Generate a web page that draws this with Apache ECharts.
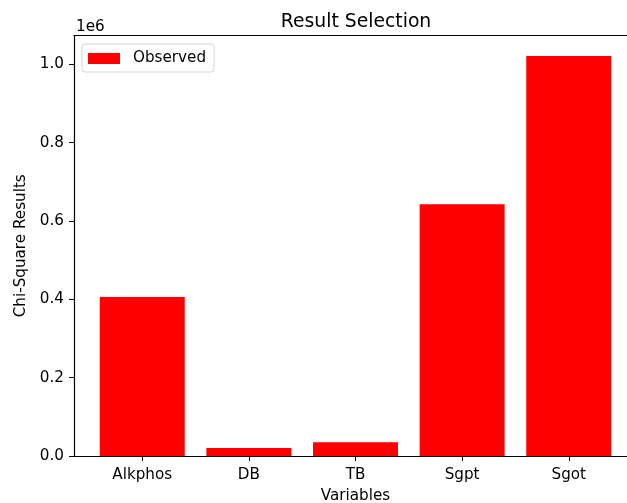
<!DOCTYPE html>
<html>
<head>
<meta charset="utf-8">
<script src="https://cdn.jsdelivr.net/npm/echarts@6/dist/echarts.min.js"></script>
<style>html,body{margin:0;padding:0;background:#fff;overflow:hidden}#c{width:627px;height:503px}</style>
</head>
<body>
<div id="c"></div>
<script>
var categories = ['Alkphos', 'DB', 'TB', 'Sgpt', 'Sgot'];
var observed = [406000, 20500, 35000, 643000, 1021000];
var yTicks = [0, 200000, 400000, 600000, 800000, 1000000];

var chart = echarts.init(document.getElementById('c'), null, {renderer: 'canvas'});
var font = 'DejaVu Sans';
var fs = 15.2;
var data = observed.map(function (v, i) { return [i, v]; });
var idx = categories.map(function (c, i) { return i; });
chart.setOption({
  animation: false,
  backgroundColor: '#fff',
  title: [
    {text: 'Result Selection', left: 351, top: 8, textAlign: 'center',
     textStyle: {fontFamily: font, fontSize: 18.8, fontWeight: 'normal', color: '#000'}},
    {text: '1e6', left: 71, top: 15,
     textStyle: {fontFamily: font, fontSize: fs, fontWeight: 'normal', color: '#000'}}
  ],
  legend: {
    left: 82, top: 44, padding: [7, 8, 6, 6],
    itemWidth: 32, itemHeight: 11,
    icon: 'rect',
    borderColor: '#d5d5d5', borderWidth: 1, borderRadius: 3,
    backgroundColor: '#fff',
    textStyle: {fontFamily: font, fontSize: fs, color: '#000', padding: [0, 0, 0, 8]},
    data: ['Observed']
  },
  grid: {left: 74, top: 35.5, width: 563, height: 420.5, containLabel: false, outerBoundsMode: 'none'},
  xAxis: [{
    type: 'value', min: -0.64, max: 4.64,
    name: 'Variables', nameLocation: 'middle', nameGap: 33,
    nameTextStyle: {fontFamily: font, fontSize: fs, color: '#000'},
    splitLine: {show: false},
    axisLine: {show: true, onZero: false, lineStyle: {color: '#000', width: 1.2}},
    axisTick: {show: true, customValues: idx, length: 5, lineStyle: {color: '#000'}},
    axisLabel: {customValues: idx, margin: 12, fontFamily: font, fontSize: fs, color: '#000',
      formatter: function (v) { return categories[Math.round(v)]; }}
  }, {
    type: 'value', position: 'top', min: -0.64, max: 4.64,
    axisLine: {show: true, onZero: false, lineStyle: {color: '#000', width: 1.2}},
    axisTick: {show: false}, axisLabel: {show: false}, splitLine: {show: false}
  }],
  yAxis: {
    type: 'value', min: 0, max: 1073500,
    name: 'Chi-Square Results', nameLocation: 'middle', nameGap: 41, nameRotate: 90,
    nameTextStyle: {fontFamily: font, fontSize: fs, color: '#000'},
    splitLine: {show: false},
    axisLine: {show: true, onZero: false, lineStyle: {color: '#000', width: 1.2}},
    axisTick: {show: true, customValues: yTicks, length: 5, lineStyle: {color: '#000'}},
    axisLabel: {customValues: yTicks, margin: 10, fontFamily: font, fontSize: fs, color: '#000',
      formatter: function (v) { return (v / 1e6).toFixed(1); }}
  },
  series: [{
    name: 'Observed', type: 'bar', data: data, barWidth: 85,
    itemStyle: {color: '#ff0000'}
  }]
});
</script>
</body>
</html>
